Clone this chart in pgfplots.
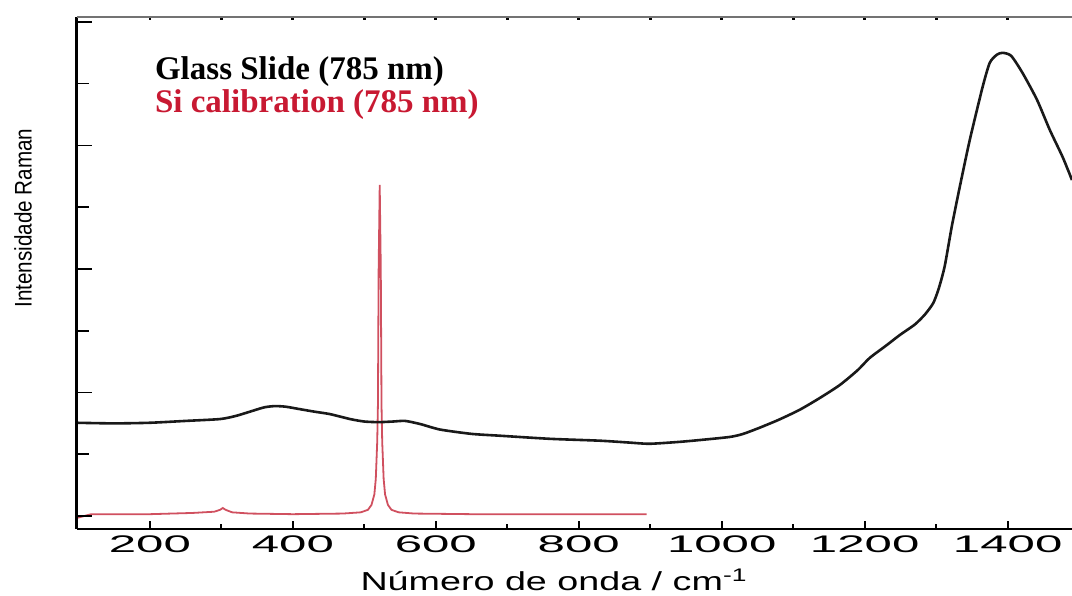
\documentclass[border=0pt]{standalone}
\usepackage{fontspec}
\setmainfont{Liberation Sans}
\newfontfamily\annfont{Liberation Serif}
\newfontfamily\tickfont[FakeStretch=2.05]{Liberation Sans}
\newfontfamily\xlabfont[FakeStretch=1.45]{Liberation Sans}
\newfontfamily\ylabfont[FakeStretch=0.86]{Liberation Sans}
\usepackage{pgfplots}
\pgfplotsset{compat=1.18}

\definecolor{sired}{RGB}{208,80,95}
\definecolor{sitext}{RGB}{200,25,50}
\definecolor{glass}{RGB}{25,25,25}

\pgfplotsset{ramanbox/.style={
  at={(0,0)}, anchor=south west, scale only axis,
  width=497.5pt, height=256pt,
  xmin=98, xmax=1490, ymin=-0.21, ymax=8.08}}

\begin{document}
\begin{tikzpicture}
% data + bottom axis with labels
\begin{axis}[ramanbox,
  axis x line*=bottom, axis y line*=left,
  x axis line style={line width=1pt, black},
  y axis line style={line width=1.5pt, black},
  ytick=\empty,
  xtick={200,400,...,1400}, minor xtick={300,500,...,1300},
  tick align=inside, major tick length=3.8pt, minor tick length=2.6pt,
  tick style={black, line width=0.9pt},
  xticklabel style={font=\fontsize{12}{14}\selectfont\tickfont},
  /pgf/number format/assume math mode=true,
  /pgf/number format/1000 sep={}]

% Si calibration (785 nm)
\addplot[sired, line width=0.9pt] coordinates {
(98,-0.03) (118,0.03) (200,0.03) (260,0.05) (290,0.07) (298,0.10)
(302,0.13) (306,0.10) (315,0.06) (340,0.04) (400,0.03) (470,0.04)
(495,0.06) (505,0.10) (510,0.18) (514,0.35) (516,0.60) (518,1.20)
(519,1.80) (520,4.00) (521.5,5.36) (523,4.00) (524,1.80) (525,1.20)
(527,0.60) (529,0.35) (533,0.18) (538,0.10) (548,0.06) (570,0.04)
(650,0.03) (800,0.03) (895,0.03)};

% Glass Slide (785 nm)
\addplot[glass, line width=1.3pt, smooth, tension=0.4] coordinates {
(98,1.51) (150,1.50) (200,1.51) (250,1.54) (298,1.57) (320,1.62)
(340,1.69) (360,1.76) (375,1.78) (390,1.77) (410,1.73) (430,1.69)
(452,1.65) (480,1.57) (500,1.53) (520,1.52) (540,1.53) (557,1.54)
(578,1.49) (606,1.40) (650,1.33) (690,1.30) (760,1.25) (829,1.22)
(870,1.19) (899,1.17) (940,1.20) (969,1.23) (1011,1.28) (1030,1.33)
(1053,1.43) (1080,1.56) (1109,1.72) (1137,1.91) (1165,2.12) (1190,2.36)
(1207,2.56) (1230,2.76) (1249,2.93) (1270,3.10) (1284,3.26) (1296,3.45)
(1304,3.70) (1312,4.05) (1322,4.70) (1333,5.33) (1347,6.09) (1365,6.95)
(1375,7.34) (1385,7.47) (1393,7.50) (1405,7.45) (1421,7.17) (1441,6.74)
(1459,6.25) (1477,5.81) (1490,5.44)};
\end{axis}

% left axis ticks
\begin{axis}[ramanbox,
  axis x line=none, axis y line*=left,
  y axis line style={line width=1.5pt, black},
  ytick={0,2,4,6,8}, minor ytick={1,3,5,7}, yticklabels={},
  tick align=inside, major tick length=7.5pt, minor tick length=6pt,
  tick style={black, line width=0.8pt}]
\end{axis}

% top axis line
\begin{axis}[ramanbox,
  axis y line=none, axis x line*=top,
  x axis line style={line width=0.8pt, black!55},
  xtick={200,300,...,1400}, xticklabels={},
  tick align=inside, major tick length=1.6pt,
  tick style={black, line width=1.4pt}]
\end{axis}

\node[anchor=west, font=\fontsize{16.5}{19}\selectfont\annfont\bfseries]
  at (35.5pt,228.5pt) {Glass Slide (785 nm)};
\node[anchor=west, text=sitext, font=\fontsize{16.5}{19}\selectfont\annfont\bfseries]
  at (35.5pt,212pt) {Si calibration (785 nm)};
\node[font=\fontsize{13}{15}\selectfont\xlabfont]
  at (238.5pt,-25.5pt) {Número de onda / cm\textsuperscript{-1}};
\node[rotate=90, font=\fontsize{12}{14}\selectfont\ylabfont]
  at (-27pt,155.5pt) {Intensidade Raman};

\pgfresetboundingbox
\path[use as bounding box] (-38.5pt,-33pt) rectangle (497.5pt,264.5pt);
\end{tikzpicture}
\end{document}
